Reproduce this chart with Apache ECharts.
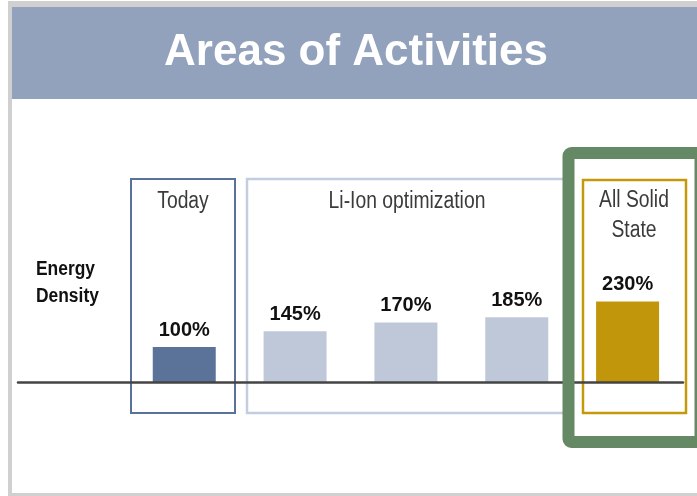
<!DOCTYPE html>
<html>
<head>
<meta charset="utf-8">
<script src="https://cdn.jsdelivr.net/npm/echarts@6/dist/echarts.min.js"></script>
<style>
html, body { margin: 0; padding: 0; background: #fff; }
#main { width: 697px; height: 496px; }
</style>
</head>
<body>
<div id="main"></div>
<script>
// first slot on the axis is the row header column (no bar)
const stages = ['', 'Today', 'Li-Ion 1', 'Li-Ion 2', 'Li-Ion 3', 'All Solid State'];
const energyDensity = ['-', 100, 145, 170, 185, 230];
const barColors = [null, '#5b7399', '#bfc8d8', '#bfc8d8', '#bfc8d8', '#c1960b'];
const rowHeader = ['Energy', 'Density'];
const groupTitles = ['Today', 'Li-Ion optimization', 'All Solid\nState'];
const chartTitle = 'Areas of Activities';

const sans = "'Liberation Sans', Arial, sans-serif";

// narrow-looking text: regular sans squeezed horizontally
function narrowText(x, y, text) {
    return {
        type: 'text', z: 5, x: x, y: y, scaleX: 0.84,
        style: { text: text, fill: '#3b3b3b', font: '23px ' + sans, lineHeight: 30,
                 textAlign: 'center', textVerticalAlign: 'middle' }
    };
}

let chart = echarts.init(document.getElementById('main'));
chart.setOption({
    animation: false,
    grid: { left: 18, right: 14, top: 242, bottom: 114 },
    xAxis: {
        type: 'category',
        data: stages,
        z: 3,
        axisLine: { lineStyle: { color: '#444', width: 2.5 } },
        axisTick: { show: false },
        axisLabel: { show: false },
        splitLine: { show: false }
    },
    yAxis: { type: 'value', min: 0, max: 400, show: false },
    series: [{
        type: 'bar',
        data: energyDensity,
        barWidth: 63,
        z: 2,
        itemStyle: {
            color: function (p) { return barColors[p.dataIndex]; }
        },
        label: {
            show: true,
            position: 'top',
            distance: 7,
            formatter: '{c}%',
            fontFamily: sans,
            fontWeight: 'bold',
            fontSize: 20,
            color: '#111'
        }
    }],
    graphic: [
        // frame + title band
        { type: 'rect', z: -20, shape: { x: 8, y: 1, width: 700, height: 500 }, style: { fill: '#d0d0d0' } },
        { type: 'rect', z: -19, shape: { x: 12, y: 7, width: 700, height: 486 }, style: { fill: '#fff' } },
        { type: 'rect', z: -18, shape: { x: 12, y: 7, width: 700, height: 92 }, style: { fill: '#92a1bc' } },
        { type: 'text', z: -17, x: 356, y: 53, style: {
            text: chartTitle, fill: '#fff', font: 'bold 44px ' + sans,
            textAlign: 'center', textVerticalAlign: 'middle' } },
        // group boxes
        { type: 'rect', z: 0, shape: { x: 131, y: 179, width: 104, height: 234 },
          style: { fill: null, stroke: '#5a7299', lineWidth: 2 } },
        { type: 'rect', z: 0, shape: { x: 247, y: 179, width: 320, height: 234 },
          style: { fill: null, stroke: '#c4cde0', lineWidth: 2.5 } },
        { type: 'rect', z: 0, shape: { x: 583, y: 180, width: 103, height: 233 },
          style: { fill: null, stroke: '#c49a0a', lineWidth: 2.5 } },
        { type: 'rect', z: 10, shape: { x: 568.5, y: 153, width: 132, height: 289, r: 3 },
          style: { fill: null, stroke: '#648964', lineWidth: 12 } },
        // group titles
        narrowText(183, 202, groupTitles[0]),
        narrowText(407, 202, groupTitles[1]),
        narrowText(634, 216, groupTitles[2]),
        // row header
        { type: 'text', z: 5, x: 36, y: 283, scaleX: 0.87, style: {
            text: rowHeader.join('\n'), fill: '#111', font: 'bold 20px ' + sans, lineHeight: 27,
            textAlign: 'left', textVerticalAlign: 'middle' } }
    ]
});
</script>
</body>
</html>
